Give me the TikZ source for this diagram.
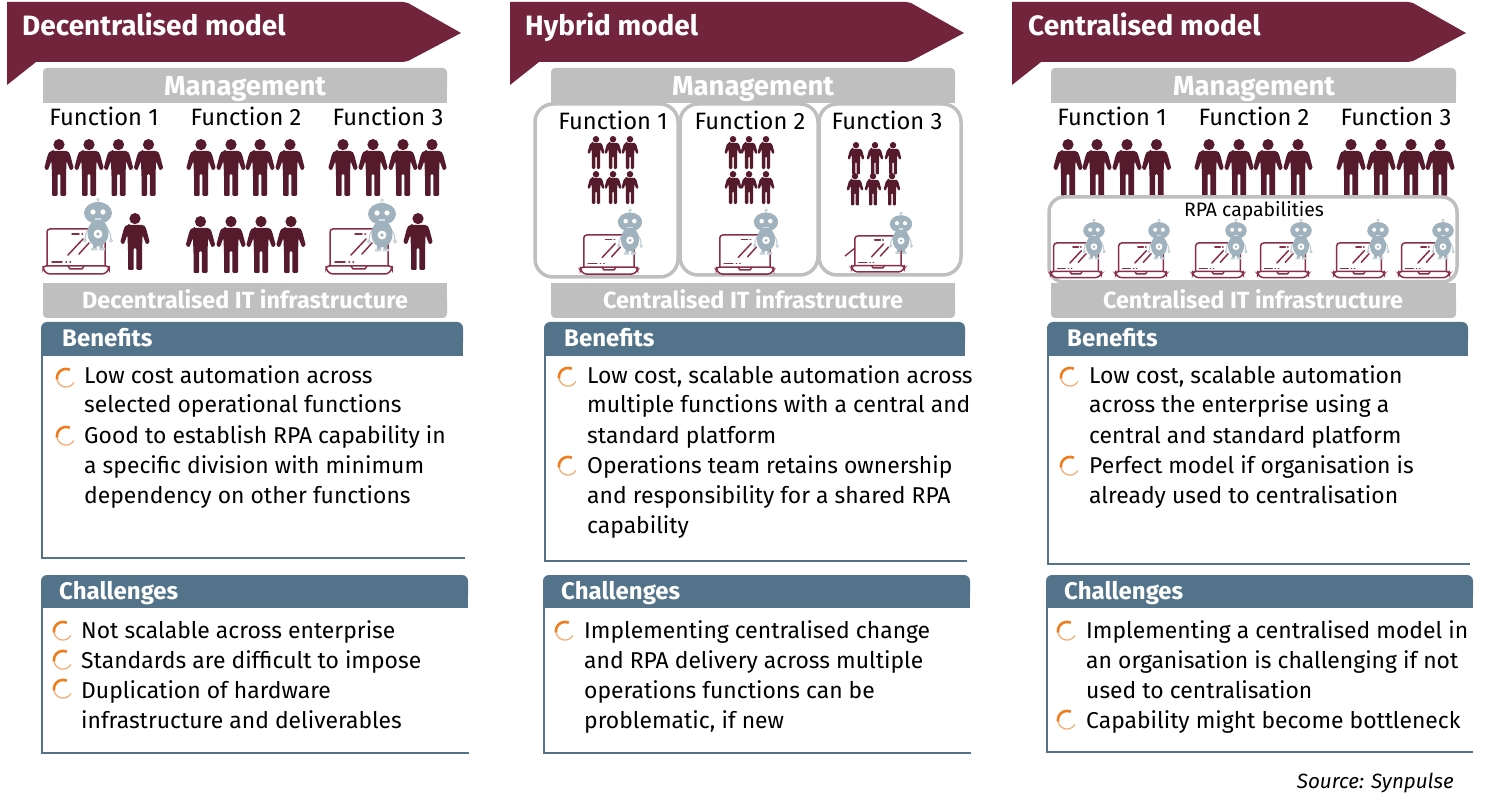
\documentclass[tikz,border=0pt]{standalone}
\usepackage{fontspec}
\setmainfont{Fira Sans}
\definecolor{banner}{HTML}{72243C}
\definecolor{bargray}{HTML}{BFBFBF}
\definecolor{panel}{HTML}{527389}
\definecolor{person}{HTML}{551A2B}
\definecolor{robotc}{HTML}{A0B2BD}
\definecolor{laptopc}{HTML}{8A2F48}
\definecolor{bullA}{HTML}{EF7D1E}
\definecolor{bullB}{HTML}{F7A86E}
\tikzset{
  bartext/.style={text=white,font=\fontsize{#1}{#1}\selectfont\bfseries,inner sep=0pt,anchor=base},
  body/.style={text=black,font=\fontsize{22.9}{22.9}\selectfont,inner sep=0pt,anchor=base west},
  func/.style={text=black,font=\fontsize{23.7}{23.7}\selectfont,inner sep=0pt,anchor=base},
  headtext/.style={text=white,font=\fontsize{24}{24}\selectfont\bfseries,inner sep=0pt,anchor=base west},
  bannertext/.style={text=white,font=\fontsize{28}{28}\selectfont\bfseries,inner sep=0pt,anchor=base west},
  frame/.style={draw=bargray,line width=3.5pt,fill=white,rounded corners=#1},
}
% person: top centre at (#1,#2), scale #3
\newcommand\pers[3]{\begin{scope}[shift={(#1,#2)},scale=#3]
 \fill[person] (0,5.6) circle (5.6);
 \fill[person,rounded corners=1.2] (-6,12) -- (6,12) .. controls (9.5,12) and (10.5,14) .. (11.5,17) -- (14.8,29.5) -- (11.2,31.5) -- (7.6,22) -- (7,36) -- (7,57) -- (1.3,57) -- (1.3,35) -- (-1.3,35) -- (-1.3,57) -- (-7,57) -- (-7,36) -- (-7.6,22) -- (-11.2,31.5) -- (-14.8,29.5) -- (-11.5,17) .. controls (-10.5,14) and (-9.5,12) .. (-6,12) -- cycle;
\end{scope}}
% laptop: top centre of the screen at (#1,#2), scale #3
\newcommand\lapt[3]{\begin{scope}[shift={(#1,#2)},scale=#3,draw=laptopc,line width=1.5pt,line cap=round]
 \draw[rounded corners=3] (-29,37) -- (-29,0) -- (29,0) -- (29,37);
 \draw[rounded corners=3] (-33,37) -- (33,37) -- (33,40) -- (29,45) -- (-29,45) -- (-33,40) -- cycle;
 \draw (-8,37) -- (-6,40) -- (6,40) -- (8,37);
 \draw (-4,5) -- (3,5) (6,5) -- (6.5,5);
 \draw (-8,26) -- (7,10) (3,25) -- (13,14);
 \draw (-24,33) -- (-14,33) (-10,33) -- (-9.5,33) (-6,33) -- (-5.5,33);
\end{scope}}
% robot: top centre at (#1,#2), scale #3
\newcommand\robo[3]{\begin{scope}[shift={(#1,#2)},scale=#3]
 \draw[robotc!70,line width=.7pt] (0,1.5) circle (1.5) (0,3) -- (0,5);
 \draw[robotc!70,line width=1pt,rounded corners=1] (-9,30) -- (-12,35) -- (-13,41) (9,30) -- (12,35) -- (13,41);
 \draw[robotc!70,line width=.8pt] (-13,42.5) circle (1.5) (13,42.5) circle (1.5);
 \fill[robotc] (0,15) ellipse (14 and 11);
 \fill[robotc] (0,35) ellipse (10.5 and 13.5);
 \fill[robotc] (-5,46) rectangle (-1.5,51) (1.5,46) rectangle (5,51);
 \fill[robotc!60] (-7,50) rectangle (-1,52.5) (1,50) rectangle (7,52.5);
 \fill[white] (-5,14) circle (2.6) (5,14) circle (2.6);
 \fill[white] (0,36) circle (4.4);
 \fill[robotc] (0,36) circle (1.8);
 \fill[white!60!robotc] (-3,20.5) rectangle (3,22);
\end{scope}}
\newcommand\bull[2]{\begin{scope}[shift={(#1,#2)}]
 \draw[bullB,line width=1.2pt] plot[domain=190:330,samples=20] ({9*cos(\x)},{-9*sin(\x)});
 \draw[bullA,line width=2.6pt] plot[domain=65:190,samples=24] ({9*cos(\x)},{-9*sin(\x)});
\end{scope}}
% banner at x offset #1
\newcommand\bann[1]{\fill[banner,shift={(#1,0)}] (7,2) -- (403,2) -- (408,3) -- (461,33) -- (408,61) -- (403,62) -- (36,62) -- (7,85) -- cycle;}
% grey bars: #1 left, #2 right
\newcommand\bars[2]{
 \fill[bargray,rounded corners=4] (#1,68) rectangle (#2,90);
 \fill[bargray] (#1,80) rectangle (#2,103);
 \fill[bargray,rounded corners=4] (#1,296) rectangle (#2,318);
 \fill[bargray] (#1,283) rectangle (#2,306);
}
% panel: #1 left, #2 right of the header, #3 right of the bottom line, #4 top, #5 header bottom, #6 bottom
\newcommand\pnl[6]{
 \draw[panel,line width=1.6pt] (#1+1,#5) -- (#1+1,#6) -- (#3,#6);
 \fill[panel,rounded corners=6] (#1,#4) rectangle (#2,#5-8);
 \fill[panel] (#1,#4+10) rectangle (#2,#5);
}
\begin{document}
\begin{tikzpicture}[x=1pt,y=-1pt]
\useasboundingbox (0,0) rectangle (1500,810);
\fill[white] (0,0) rectangle (1500,810);
% ---------- banners
\bann{0}\bann{503}\bann{1005}
\node[bannertext] (t1) at (22,36) {Decentralised model};
\node[bannertext] (t2) at (525,36) {Hybrid model};
\node[bannertext] (t3) at (1028,36) {Centralised model};
% ---------- column 1 people
\node[func] (f11) at (104,126) {Function 1};
\node[func] (f12) at (246,126) {Function 2};
\node[func] (f13) at (388,126) {Function 3};
\foreach \x in {59,89,118.5,148.5,201,231,260,290,343,373,403,432} {\pers{\x}{139}{1}}
\foreach \x in {200.5,231,261,291} {\pers{\x}{216}{1}}
\pers{135}{213}{1}\pers{418}{213}{1}
\lapt{76}{229}{1}\robo{98}{198}{1}
\lapt{359}{229}{1}\robo{382}{199}{1}
% ---------- column 2 people
\draw[frame=18] (535,104) rectangle (678,277);
\draw[frame=18] (680,104) rectangle (818,275);
\draw[frame=18] (819,104) rectangle (961,275);
\node[func] (f21) at (613,130) {Function 1};
\node[func] (f22) at (750,130) {Function 2};
\node[func] (f23) at (887,130) {Function 3};
\foreach \x in {596,613,630,733,749,766} {\pers{\x}{136}{.58}\pers{\x}{171}{.58}}
\foreach \x in {856,875,893} {\pers{\x}{142}{.57}}
\foreach \x in {855,873,892} {\pers{\x}{173}{.57}}
\lapt{609}{235}{.87}\robo{630}{209}{.87}
\lapt{745}{235}{.87}\robo{766}{209}{.87}
\lapt{878}{236}{.8}\robo{901}{212}{.8}
\draw[laptopc,line width=1.4pt] (845,256) -- (855,248);
% ---------- column 3 people
\node[func] (f31) at (1112,126) {Function 1};
\node[func] (f32) at (1254,126) {Function 2};
\node[func] (f33) at (1396,126) {Function 3};
\foreach \x in {1068,1097,1127,1156.5,1209,1239,1268,1298,1351,1381,1411,1440} {\pers{\x}{139}{1}}
\draw[frame=15] (1049,197) rectangle (1457,282);
\node[func,font=\fontsize{19.4}{19.4}\selectfont] (rpa) at (1254,217) {RPA capabilities};
\foreach \a/\b in {1076/1094,1141/1159,1218/1236,1283/1301,1359/1378,1424/1443} {\lapt{\a}{243}{.77}\robo{\b}{219}{.77}}
% ---------- grey bars
\bars{43}{447}\bars{551}{955}\bars{1051}{1456}
\node[bartext=27.5] (m1) at (245,96) {Management};
\node[bartext=27.5] (m2) at (753,96) {Management};
\node[bartext=27.5] (m3) at (1254,96) {Management};
\node[bartext=23.4] (i1) at (245,309) {Decentralised IT infrastructure};
\node[bartext=23.4] (i2) at (753,309) {Centralised IT infrastructure};
\node[bartext=23.4] (i3) at (1253,309) {Centralised IT infrastructure};
% ---------- panels
\pnl{41}{463}{465}{322}{356}{558}
\pnl{544}{965}{967}{322}{356}{561}
\pnl{1047}{1468}{1470}{322}{356}{564}
\pnl{41}{468}{469}{575}{608}{753}
\pnl{543}{970}{971}{575}{608}{753}
\pnl{1046}{1473}{1473}{575}{608}{752}
\node[headtext] (b1) at (62,347) {Benefits};
\node[headtext] (b2) at (564,347) {Benefits};
\node[headtext] (b3) at (1067,347) {Benefits};
\node[headtext] (c1) at (59,599) {Challenges};
\node[headtext] (c2) at (561,599) {Challenges};
\node[headtext] (c3) at (1064,599) {Challenges};
% ---------- column 1 text
\bull{66}{378}\bull{66}{436}
\node[body] (a1) at (84,384) {Low cost automation across};
\node[body] (a2) at (84,413) {selected operational functions};
\node[body] (a3) at (84,443) {Good to establish RPA capability in};
\node[body] (a4) at (84,473) {a specific division with minimum};
\node[body] (a5) at (84,503) {dependency on other functions};
\bull{63}{631}\bull{63}{660}\bull{63}{689}
\node[body] (a6) at (81,638) {Not scalable across enterprise};
\node[body] (a7) at (81,668) {Standards are difficult to impose};
\node[body] (a8) at (81,698) {Duplication of hardware};
\node[body] (a9) at (81,728) {infrastructure and deliverables};
% ---------- column 2 text
\bull{568}{377}\bull{568}{466}
\node[body] (d1) at (587,384) {Low cost, scalable automation across};
\node[body] (d2) at (587,413) {multiple functions with a central and};
\node[body] (d3) at (587,443) {standard platform};
\node[body] (d4) at (587,473) {Operations team retains ownership};
\node[body] (d5) at (587,503) {and responsibility for a shared RPA};
\node[body] (d6) at (587,533) {capability};
\bull{565}{631}
\node[body] (d7) at (584,638) {Implementing centralised change};
\node[body] (d8) at (584,668) {and RPA delivery across multiple};
\node[body] (d9) at (584,698) {operations functions can be};
\node[body] (d10) at (584,728) {problematic, if new};
% ---------- column 3 text
\bull{1070}{377}\bull{1070}{466}
\node[body] (e1) at (1089,384) {Low cost, scalable automation};
\node[body] (e2) at (1089,413) {across the enterprise using a};
\node[body] (e3) at (1089,443) {central and standard platform};
\node[body] (e4) at (1089,473) {Perfect model if organisation is};
\node[body] (e5) at (1089,503) {already used to centralisation};
\bull{1067}{631}\bull{1067}{720}
\node[body] (e6) at (1086,638) {Implementing a centralised model in};
\node[body] (e7) at (1086,668) {an organisation is challenging if not};
\node[body] (e8) at (1086,698) {used to centralisation};
\node[body] (e9) at (1086,728) {Capability might become bottleneck};
\node[inner sep=0pt,anchor=base east,font=\fontsize{20.6}{20.6}\selectfont\itshape] (src) at (1454,788) {Source: Synpulse};
\end{tikzpicture}
\end{document}
